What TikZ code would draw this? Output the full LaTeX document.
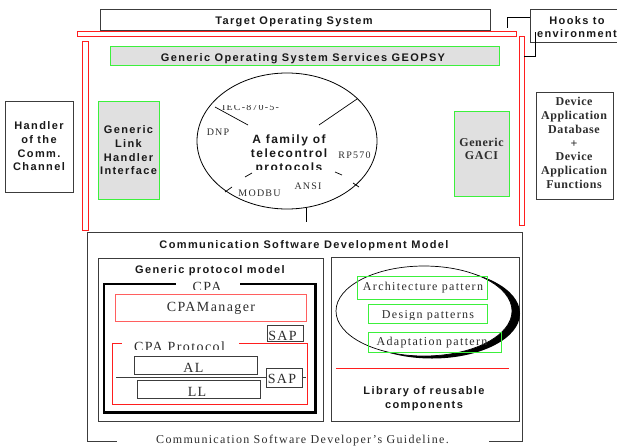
\documentclass[tikz,border=0pt]{standalone}
\usepackage{fontspec}
\setmainfont{Liberation Serif}
\usetikzlibrary{shapes.geometric}
\newfontfamily\lblsans[LetterSpace=12.5]{Liberation Sans}
\newfontfamily\lblserif[LetterSpace=11]{Liberation Serif}
\newfontfamily\lblwide[LetterSpace=10]{Liberation Serif}
\newfontfamily\lblbold[LetterSpace=5]{Liberation Serif}
\newfontfamily\lblsmall[LetterSpace=12]{Liberation Serif}
\definecolor{boxgray}{RGB}{224,224,224}
\definecolor{okgreen}{RGB}{60,240,60}
\definecolor{edge}{RGB}{60,60,60}
\definecolor{redline}{RGB}{255,30,30}
\definecolor{pinkred}{RGB}{255,95,95}
\definecolor{inkgray}{RGB}{45,45,45}

\tikzset{
  box/.style={draw=edge, line width=0.9pt, fill=white, inner sep=0pt},
  greenbox/.style={draw=okgreen, line width=0.9pt, fill=boxgray, inner sep=0pt},
  greenframe/.style={draw=okgreen, line width=0.9pt, inner sep=0pt},
  redbar/.style={draw=redline, line width=0.8pt, fill=white, inner sep=0pt},
  frame/.style={draw=edge, line width=0.9pt},
  thickframe/.style={draw=black, line width=2.6pt},
  redframe/.style={draw=redline, line width=0.9pt},
  conn/.style={draw=black, line width=0.8pt},
  spoke/.style={draw=black, line width=0.7pt},
  area/.style={inner sep=0pt, minimum width=#1},
  sanslbl/.style={font=\lblsans\bfseries\fontsize{11}{13.7}\selectfont, align=center, inner sep=0pt, text=black!90},
  famlbl/.style={font=\lblsans\bfseries\fontsize{12}{14}\selectfont, align=center, inner sep=0pt, text=black!90},
  boldserif/.style={font=\lblbold\bfseries\fontsize{12}{13.8}\selectfont, align=center, inner sep=0pt, text=inkgray},
  serifsmall/.style={font=\lblsmall\fontsize{10}{12}\selectfont, inner sep=0pt, text=inkgray},
  seriflbl/.style={font=\lblserif\fontsize{12}{14}\selectfont, inner sep=0pt, text=inkgray},
  serifwide/.style={font=\lblwide\fontsize{14}{16}\selectfont, inner sep=0pt, text=inkgray},
}

\begin{document}
\begin{tikzpicture}[x=1pt,y=-1pt]
\useasboundingbox (0,0) rectangle (617,447);

% ---------- operating system layer ----------
\node[box, minimum width=390pt, minimum height=21pt] (tos) at (295,19.5) {};
\node[sanslbl, anchor=base] (tosT) at (294,24) {Target Operating System};
\node[redbar, minimum width=439pt, minimum height=5pt] (barTop) at (296.5,33.5) {};
\node[redbar, minimum width=6pt, minimum height=189pt] (barL) at (85,135.5) {};
\node[redbar, minimum width=5pt, minimum height=189pt] (barR) at (521.5,130.5) {};
\node[greenbox, minimum width=389pt, minimum height=19pt] (geopsy) at (304.5,55.5) {};
\node[sanslbl, anchor=base] (geopsyT) at (303,61) {Generic Operating System Services GEOPSY};

% ---------- hooks ----------
\node[box, minimum width=95pt, minimum height=33pt, anchor=north west] (hooks) at (530,9) {};
\node[sanslbl] (hooksT) at (577,27) {Hooks to\\environment};
\coordinate (hookA) at (507,27.5);
\coordinate (hookB) at (507,17);
\coordinate (hookC) at (535.5,56);
\coordinate (hookD) at (535.5,32);
\draw[conn] (hookA) -- (hookB) -- (hooks.west |- hookB);
\draw[conn] (barR.east |- hookC) -- (hookC) -- (hookD);

% ---------- side boxes ----------
\node[box, sanslbl, minimum width=68pt, minimum height=91pt] (handler) at (39,146.5)
  {Handler\\of the\\Comm.\\Channel};
\node[greenbox, sanslbl, minimum width=61pt, minimum height=98pt] (glhi) at (128.5,150.3)
  {Generic\\Link\\Handler\\Interface};
\node[greenbox, minimum width=55pt, minimum height=85pt] (gaci) at (481.5,153.5) {};
\node[boldserif] (gaciT) at (481.5,148.8) {Generic\\GACI};
\node[box, minimum width=77pt, minimum height=107pt] (devapp) at (574.5,145.5) {};
\node[boldserif] (devappT) at (574,143)
  {Device\\Application\\Database\\+\\Device\\Application\\Functions};

% ---------- family of telecontrol protocols ----------
\node[draw=black, line width=0.8pt, ellipse, minimum width=180pt, minimum height=136pt, inner sep=0pt] (fam) at (287,141) {};
\draw[spoke] (215,107) -- (248,125);
\draw[spoke] (357,99) -- (319,125);
\draw[spoke] (225,192) -- (232,187);
\draw[spoke] (245,177) -- (252,173);
\draw[spoke] (335,172) -- (342,175);
\draw[spoke] (353,183) -- (359,187);
\coordinate (famFoot) at (306,207.5);
\coordinate (famFootEnd) at (306,222);
\draw[spoke] (famFoot) -- (famFootEnd);
\begin{scope}
  \clip (200,105.2) rectangle (300,120);
  \node[serifsmall, anchor=base] (iec) at (250.5,110.8) {IEC-870-5-};
\end{scope}
\node[serifsmall, anchor=base] (dnp) at (218,135) {DNP};
\node[serifsmall, anchor=base] (rp) at (354.5,158.5) {RP570};
\node[serifsmall, anchor=base] (modbu) at (259.5,196) {MODBU};
\node[serifsmall, anchor=base] (ansi) at (308,189.5) {ANSI};
\begin{scope}
  \clip (240,128) rectangle (340,169.8);
  \node[famlbl] (famT) at (289,154.2) {A family of\\telecontrol\\protocols};
\end{scope}

% ---------- communication software development model ----------
\node[area=434pt, minimum height=208pt] (csdm) at (305,337) {};
\draw[frame] ([xshift=29pt]csdm.south west) -- (csdm.south west) -- (csdm.north west)
  -- (csdm.north east) -- (csdm.south east) -- ([xshift=-33pt]csdm.south east);
\node[sanslbl, anchor=base] (csdmT) at (304,248) {Communication Software Development Model};
\node[seriflbl, anchor=base] (guide) at (302.5,443) {Communication Software Developer’s Guideline.};

% generic protocol model
\node[box, minimum width=225pt, minimum height=163pt] (gpm) at (210.5,339.5) {};
\node[sanslbl, anchor=base] (gpmT) at (210,273) {Generic protocol model};
\node[area=211pt, minimum height=128pt] (cpa) at (209.5,348) {};
\draw[thickframe] ([xshift=72pt]cpa.north west) -- (cpa.north west) -- (cpa.south west)
  -- (cpa.south east) -- (cpa.north east) -- ([xshift=-75pt]cpa.north east);
\begin{scope}
  \clip (180,278) rectangle (235,289.5);
  \node[serifwide, anchor=base] (cpaT) at (207,291.3) {CPA};
\end{scope}
\node[draw=pinkred, line width=0.9pt, minimum width=191pt, minimum height=27pt, inner sep=0pt] (mgr) at (210.5,307.5) {};
\node[serifwide, anchor=base] (mgrT) at (211,311) {CPAManager};
\node[box, minimum width=36pt, minimum height=16pt] (sap1) at (285,333) {};
\begin{scope}
  \clip (268,326) rectangle (302,340.4);
  \node[serifwide, anchor=base] (sap1T) at (282.5,340.8) {SAP};
\end{scope}
\node[area=194pt, minimum height=60pt] (proto) at (210,374) {};
\draw[redframe] ([xshift=9pt]proto.north west) -- (proto.north west) -- (proto.south west)
  -- (proto.south east) -- (proto.north east) -- ([xshift=-68pt]proto.north east);
\begin{scope}
  \clip (125,338) rectangle (236,349.8);
  \node[serifwide, anchor=base] (protoT) at (179.5,351.3) {CPA Protocol};
\end{scope}
\node[box, minimum width=123pt, minimum height=18pt] (al) at (195.5,365) {};
\node[serifwide, anchor=base] (alT) at (193.5,372) {AL};
\coordinate (splitL) at (116,377);
\coordinate (splitR) at (306,377);
\draw[draw=edge, line width=0.9pt] (splitL) -- (splitR);
\node[box, minimum width=36pt, minimum height=19pt] (sap2) at (284,377.5) {};
\node[serifwide, anchor=base] (sap2T) at (282,383) {SAP};
\node[box, minimum width=123pt, minimum height=18pt] (ll) at (198.5,389) {};
\node[serifwide, anchor=base] (llT) at (197,396) {LL};

% library of reusable components
\node[box, minimum width=188pt, minimum height=164pt] (lib) at (425,339) {};
\node[fill=black, ellipse, minimum width=176pt, minimum height=90pt, inner sep=0pt] (patShade) at (432,313.5) {};
\node[draw=black, fill=white, line width=0.7pt, ellipse, minimum width=176pt, minimum height=90pt, inner sep=0pt] (pat) at (424,311) {};
\node[greenframe, minimum width=130pt, minimum height=23pt] (arch) at (422,287.5) {};
\node[seriflbl, anchor=base] (archT) at (423,290.6) {Architecture pattern};
\node[greenframe, minimum width=119pt, minimum height=19pt] (design) at (427.5,313.5) {};
\begin{scope}
  \clip (370,305) rectangle (486,319.6);
  \node[seriflbl, anchor=base] (designT) at (428,318.2) {Design patterns};
\end{scope}
\node[greenframe, minimum width=133pt, minimum height=20pt] (adapt) at (434.5,342) {};
\node[seriflbl, anchor=base] (adaptT) at (432,345) {Adaptation pattern};
\coordinate (libLineL) at (336,368);
\coordinate (libLineR) at (509,368);
\draw[draw=redline, line width=0.9pt] (libLineL) -- (libLineR);
\node[sanslbl] (libT) at (424,398.4) {Library of reusable\\components};
\end{tikzpicture}
\end{document}
